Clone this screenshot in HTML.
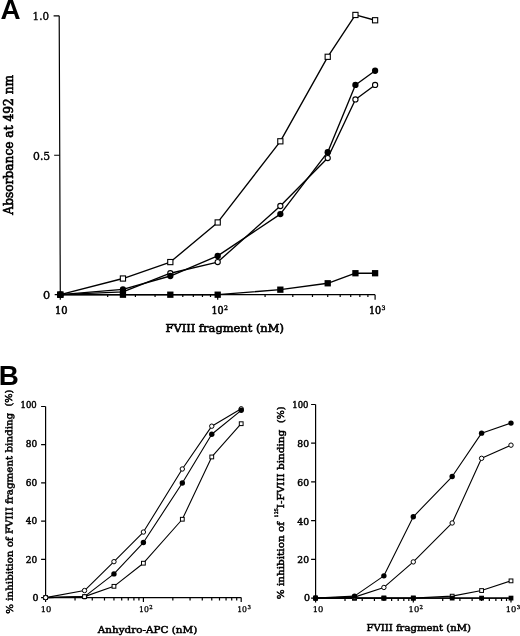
<!DOCTYPE html><html><head><meta charset="utf-8"><title>Figure</title><style>html,body{margin:0;padding:0;background:#fff}svg{display:block}</style></head><body>
<svg width="520" height="636" viewBox="0 0 520 636">
<rect width="520" height="636" fill="#fff"/>
<path d="M59.20 15.8L60.3 294.7H375.1" fill="none" stroke="#000" stroke-width="1.2"/>
<path d="M54.70 294.70H60.30M54.15 155.25H59.75M53.60 15.80H59.20M60.30 294.7v5M107.68 294.7v2.4M135.40 294.7v2.4M155.06 294.7v2.4M170.32 294.7v2.4M182.78 294.7v2.4M193.32 294.7v2.4M202.45 294.7v2.4M210.50 294.7v2.4M217.70 294.7v5M265.08 294.7v2.4M292.80 294.7v2.4M312.46 294.7v2.4M327.72 294.7v2.4M340.18 294.7v2.4M350.72 294.7v2.4M359.85 294.7v2.4M367.90 294.7v2.4M375.10 294.7v5" fill="none" stroke="#000" stroke-width="1.2"/>
<polyline points="60.30,294.70 122.94,278.52 170.32,262.07 217.70,222.46 280.34,141.30 327.72,56.80 355.43,14.96 375.10,20.26" fill="none" stroke="#000" stroke-width="1.35" stroke-linejoin="round"/>
<polyline points="60.30,294.70 122.94,291.91 170.32,273.22 217.70,262.07 280.34,206.01 327.72,158.04 355.43,99.47 375.10,84.97" fill="none" stroke="#000" stroke-width="1.35" stroke-linejoin="round"/>
<polyline points="60.30,294.70 122.94,289.40 170.32,276.01 217.70,255.93 280.34,214.10 327.72,152.18 355.43,84.97 375.10,70.74" fill="none" stroke="#000" stroke-width="1.35" stroke-linejoin="round"/>
<polyline points="60.30,294.70 122.94,294.70 170.32,294.70 217.70,294.70 280.34,289.68 327.72,283.27 355.43,273.22 375.10,273.22" fill="none" stroke="#000" stroke-width="1.35" stroke-linejoin="round"/>
<rect x="57.70" y="292.10" width="5.20" height="5.20" fill="#fff" stroke="#000" stroke-width="1.1"/>
<rect x="120.34" y="275.92" width="5.20" height="5.20" fill="#fff" stroke="#000" stroke-width="1.1"/>
<rect x="167.72" y="259.47" width="5.20" height="5.20" fill="#fff" stroke="#000" stroke-width="1.1"/>
<rect x="215.10" y="219.86" width="5.20" height="5.20" fill="#fff" stroke="#000" stroke-width="1.1"/>
<rect x="277.74" y="138.70" width="5.20" height="5.20" fill="#fff" stroke="#000" stroke-width="1.1"/>
<rect x="325.12" y="54.20" width="5.20" height="5.20" fill="#fff" stroke="#000" stroke-width="1.1"/>
<rect x="352.83" y="12.36" width="5.20" height="5.20" fill="#fff" stroke="#000" stroke-width="1.1"/>
<rect x="372.50" y="17.66" width="5.20" height="5.20" fill="#fff" stroke="#000" stroke-width="1.1"/>
<circle cx="60.30" cy="294.70" r="2.60" fill="#fff" stroke="#000" stroke-width="1.1"/>
<circle cx="122.94" cy="291.91" r="2.60" fill="#fff" stroke="#000" stroke-width="1.1"/>
<circle cx="170.32" cy="273.22" r="2.60" fill="#fff" stroke="#000" stroke-width="1.1"/>
<circle cx="217.70" cy="262.07" r="2.60" fill="#fff" stroke="#000" stroke-width="1.1"/>
<circle cx="280.34" cy="206.01" r="2.60" fill="#fff" stroke="#000" stroke-width="1.1"/>
<circle cx="327.72" cy="158.04" r="2.60" fill="#fff" stroke="#000" stroke-width="1.1"/>
<circle cx="355.43" cy="99.47" r="2.60" fill="#fff" stroke="#000" stroke-width="1.1"/>
<circle cx="375.10" cy="84.97" r="2.60" fill="#fff" stroke="#000" stroke-width="1.1"/>
<circle cx="60.30" cy="294.70" r="3.15" fill="#000"/>
<circle cx="122.94" cy="289.40" r="3.15" fill="#000"/>
<circle cx="170.32" cy="276.01" r="3.15" fill="#000"/>
<circle cx="217.70" cy="255.93" r="3.15" fill="#000"/>
<circle cx="280.34" cy="214.10" r="3.15" fill="#000"/>
<circle cx="327.72" cy="152.18" r="3.15" fill="#000"/>
<circle cx="355.43" cy="84.97" r="3.15" fill="#000"/>
<circle cx="375.10" cy="70.74" r="3.15" fill="#000"/>
<rect x="57.15" y="291.55" width="6.30" height="6.30" fill="#000"/>
<rect x="119.79" y="291.55" width="6.30" height="6.30" fill="#000"/>
<rect x="167.17" y="291.55" width="6.30" height="6.30" fill="#000"/>
<rect x="214.55" y="291.55" width="6.30" height="6.30" fill="#000"/>
<rect x="277.19" y="286.53" width="6.30" height="6.30" fill="#000"/>
<rect x="324.57" y="280.12" width="6.30" height="6.30" fill="#000"/>
<rect x="352.28" y="270.07" width="6.30" height="6.30" fill="#000"/>
<rect x="371.95" y="270.07" width="6.30" height="6.30" fill="#000"/>
<text x="0.4" y="19.3" font-family='"Liberation Sans", "DejaVu Sans", sans-serif' font-size="27.8" font-weight="bold" text-anchor="start" >A</text>
<text x="49.0" y="19.9" font-family='"DejaVu Serif", "Liberation Serif", serif' font-size="11" font-weight="normal" text-anchor="end" stroke="#000" stroke-width="0.38" textLength="16.4" lengthAdjust="spacingAndGlyphs" >1.0</text>
<text x="50.2" y="160" font-family='"DejaVu Serif", "Liberation Serif", serif' font-size="11" font-weight="normal" text-anchor="end" stroke="#000" stroke-width="0.38" textLength="17.2" lengthAdjust="spacingAndGlyphs" >0.5</text>
<text x="50.2" y="298.9" font-family='"DejaVu Serif", "Liberation Serif", serif' font-size="11" font-weight="normal" text-anchor="end" stroke="#000" stroke-width="0.38" textLength="7.2" lengthAdjust="spacingAndGlyphs" >0</text>
<text x="61.3" y="313.8" font-family='"DejaVu Serif", "Liberation Serif", serif' font-size="10.5" font-weight="normal" text-anchor="middle" stroke="#000" stroke-width="0.55" textLength="12.6" lengthAdjust="spacingAndGlyphs" >10</text>
<text x="211.5" y="314.0" font-family='"DejaVu Serif", "Liberation Serif", serif' font-size="10.5" font-weight="normal" stroke="#000" stroke-width="0.55"><tspan textLength="12.2" lengthAdjust="spacingAndGlyphs">10</tspan><tspan dy="-3.8" dx="0.4" font-size="6.2" stroke-width="0.39">2</tspan></text>
<text x="369.0" y="314.0" font-family='"DejaVu Serif", "Liberation Serif", serif' font-size="10.5" font-weight="normal" stroke="#000" stroke-width="0.55"><tspan textLength="12.2" lengthAdjust="spacingAndGlyphs">10</tspan><tspan dy="-3.8" dx="0.4" font-size="6.2" stroke-width="0.39">3</tspan></text>
<text x="224.7" y="332.4" font-family='"DejaVu Serif", "Liberation Serif", serif' font-size="11.5" font-weight="normal" text-anchor="middle" stroke="#000" stroke-width="0.62" textLength="118.4" lengthAdjust="spacingAndGlyphs" >FVIII fragment (nM)</text>
<text x="13.5" y="144.8" font-family='"DejaVu Serif", "Liberation Serif", serif' font-size="12.0" font-weight="normal" text-anchor="middle" stroke="#000" stroke-width="0.62" textLength="139.8" lengthAdjust="spacingAndGlyphs" transform="rotate(-90 13.5 144.8)" >Absorbance at 492 nm</text>
<path d="M45.60 406.5L45.6 597.6H241.2" fill="none" stroke="#000" stroke-width="1.2"/>
<path d="M41.10 597.60H45.60M41.10 559.38H45.60M41.10 521.16H45.60M41.10 482.94H45.60M41.10 444.72H45.60M41.10 406.50H45.60M45.60 597.6v4.4M75.04 597.6v2.8M92.26 597.6v2.8M104.48 597.6v2.8M113.96 597.6v2.8M121.70 597.6v2.8M128.25 597.6v2.8M133.92 597.6v2.8M138.92 597.6v2.8M143.40 597.6v4.4M172.84 597.6v2.8M190.06 597.6v2.8M202.28 597.6v2.8M211.76 597.6v2.8M219.50 597.6v2.8M226.05 597.6v2.8M231.72 597.6v2.8M236.72 597.6v2.8M241.20 597.6v4.4" fill="none" stroke="#000" stroke-width="1.2"/>
<polyline points="45.60,597.60 84.52,590.53 113.96,561.67 143.40,532.05 182.32,468.99 211.76,426.18 241.20,408.79" fill="none" stroke="#000" stroke-width="1.1" stroke-linejoin="round"/>
<polyline points="45.60,597.60 84.52,596.64 113.96,573.90 143.40,542.56 182.32,482.94 211.76,434.21 241.20,410.32" fill="none" stroke="#000" stroke-width="1.1" stroke-linejoin="round"/>
<polyline points="45.60,597.60 84.52,596.64 113.96,586.33 143.40,563.20 182.32,519.25 211.76,456.95 241.20,423.70" fill="none" stroke="#000" stroke-width="1.1" stroke-linejoin="round"/>
<circle cx="45.60" cy="597.60" r="2.20" fill="#fff" stroke="#000" stroke-width="1.0"/>
<circle cx="84.52" cy="590.53" r="2.20" fill="#fff" stroke="#000" stroke-width="1.0"/>
<circle cx="113.96" cy="561.67" r="2.20" fill="#fff" stroke="#000" stroke-width="1.0"/>
<circle cx="143.40" cy="532.05" r="2.20" fill="#fff" stroke="#000" stroke-width="1.0"/>
<circle cx="182.32" cy="468.99" r="2.20" fill="#fff" stroke="#000" stroke-width="1.0"/>
<circle cx="211.76" cy="426.18" r="2.20" fill="#fff" stroke="#000" stroke-width="1.0"/>
<circle cx="241.20" cy="408.79" r="2.20" fill="#fff" stroke="#000" stroke-width="1.0"/>
<circle cx="45.60" cy="597.60" r="2.70" fill="#000"/>
<circle cx="84.52" cy="596.64" r="2.70" fill="#000"/>
<circle cx="113.96" cy="573.90" r="2.70" fill="#000"/>
<circle cx="143.40" cy="542.56" r="2.70" fill="#000"/>
<circle cx="182.32" cy="482.94" r="2.70" fill="#000"/>
<circle cx="211.76" cy="434.21" r="2.70" fill="#000"/>
<circle cx="241.20" cy="410.32" r="2.70" fill="#000"/>
<rect x="43.71" y="595.71" width="3.78" height="3.78" fill="#fff" stroke="#000" stroke-width="1.0"/>
<rect x="82.63" y="594.75" width="3.78" height="3.78" fill="#fff" stroke="#000" stroke-width="1.0"/>
<rect x="112.07" y="584.43" width="3.78" height="3.78" fill="#fff" stroke="#000" stroke-width="1.0"/>
<rect x="141.51" y="561.31" width="3.78" height="3.78" fill="#fff" stroke="#000" stroke-width="1.0"/>
<rect x="180.43" y="517.36" width="3.78" height="3.78" fill="#fff" stroke="#000" stroke-width="1.0"/>
<rect x="209.87" y="455.06" width="3.78" height="3.78" fill="#fff" stroke="#000" stroke-width="1.0"/>
<rect x="239.31" y="421.81" width="3.78" height="3.78" fill="#fff" stroke="#000" stroke-width="1.0"/>
<circle cx="45.60" cy="597.60" r="2.20" fill="#fff" stroke="#000" stroke-width="1.0"/>
<text x="-1.2" y="385.4" font-family='"Liberation Sans", "DejaVu Sans", sans-serif' font-size="27.8" font-weight="bold" text-anchor="start" >B</text>
<text x="36.7" y="407.7" font-family='"DejaVu Serif", "Liberation Serif", serif' font-size="8.6" font-weight="normal" text-anchor="end" stroke="#000" stroke-width="0.45" textLength="16.2" lengthAdjust="spacingAndGlyphs" >100</text>
<text x="37.1" y="447.2" font-family='"DejaVu Serif", "Liberation Serif", serif' font-size="8.6" font-weight="normal" text-anchor="end" stroke="#000" stroke-width="0.45" textLength="11.4" lengthAdjust="spacingAndGlyphs" >80</text>
<text x="37.1" y="486.2" font-family='"DejaVu Serif", "Liberation Serif", serif' font-size="8.6" font-weight="normal" text-anchor="end" stroke="#000" stroke-width="0.45" textLength="11.4" lengthAdjust="spacingAndGlyphs" >60</text>
<text x="37.1" y="524.0" font-family='"DejaVu Serif", "Liberation Serif", serif' font-size="8.6" font-weight="normal" text-anchor="end" stroke="#000" stroke-width="0.45" textLength="11.4" lengthAdjust="spacingAndGlyphs" >40</text>
<text x="37.1" y="562.5" font-family='"DejaVu Serif", "Liberation Serif", serif' font-size="8.6" font-weight="normal" text-anchor="end" stroke="#000" stroke-width="0.45" textLength="11.4" lengthAdjust="spacingAndGlyphs" >20</text>
<text x="38.5" y="600.6" font-family='"DejaVu Serif", "Liberation Serif", serif' font-size="8.6" font-weight="normal" text-anchor="end" stroke="#000" stroke-width="0.45" textLength="6.0" lengthAdjust="spacingAndGlyphs" >0</text>
<text x="46.1" y="612.0" font-family='"DejaVu Serif", "Liberation Serif", serif' font-size="7.9" font-weight="normal" text-anchor="middle" stroke="#000" stroke-width="0.3" textLength="10.6" lengthAdjust="spacingAndGlyphs" >10</text>
<text x="139.0" y="611.8" font-family='"DejaVu Serif", "Liberation Serif", serif' font-size="7.9" font-weight="normal" stroke="#000" stroke-width="0.3"><tspan textLength="9.8" lengthAdjust="spacingAndGlyphs">10</tspan><tspan dy="-2.9" dx="0.4" font-size="5.4" stroke-width="0.30">2</tspan></text>
<text x="237.2" y="611.8" font-family='"DejaVu Serif", "Liberation Serif", serif' font-size="7.9" font-weight="normal" stroke="#000" stroke-width="0.3"><tspan textLength="9.8" lengthAdjust="spacingAndGlyphs">10</tspan><tspan dy="-2.9" dx="0.4" font-size="5.4" stroke-width="0.30">3</tspan></text>
<text x="147.5" y="632.6" font-family='"DejaVu Serif", "Liberation Serif", serif' font-size="9.3" font-weight="normal" text-anchor="middle" stroke="#000" stroke-width="0.5" textLength="99.4" lengthAdjust="spacingAndGlyphs" >Anhydro-APC (nM)</text>
<text x="12.9" y="613.8" font-family='"DejaVu Serif", "Liberation Serif", serif' font-size="9.3" stroke="#000" stroke-width="0.5" textLength="201" lengthAdjust="spacingAndGlyphs" transform="rotate(-90.2 12.9 613.8)">% inhibition of FVIII fragment binding</text>
<text x="12.1" y="406.6" font-family='"DejaVu Serif", "Liberation Serif", serif' font-size="9.3" stroke="#000" stroke-width="0.5" textLength="17" lengthAdjust="spacingAndGlyphs" transform="rotate(-90.2 12.1 406.6)">(%)</text>
<path d="M315.60 404.5L315.6 598.1H511.0" fill="none" stroke="#000" stroke-width="1.2"/>
<path d="M311.10 598.10H315.60M311.10 559.38H315.60M311.10 520.66H315.60M311.10 481.94H315.60M311.10 443.22H315.60M311.10 404.50H315.60M315.60 598.1v4.4M345.01 598.1v2.8M362.21 598.1v2.8M374.42 598.1v2.8M383.89 598.1v2.8M391.63 598.1v2.8M398.17 598.1v2.8M403.83 598.1v2.8M408.83 598.1v2.8M413.30 598.1v4.4M442.71 598.1v2.8M459.91 598.1v2.8M472.12 598.1v2.8M481.59 598.1v2.8M489.33 598.1v2.8M495.87 598.1v2.8M501.53 598.1v2.8M506.53 598.1v2.8M511.00 598.1v4.4" fill="none" stroke="#000" stroke-width="1.2"/>
<polyline points="315.60,598.10 354.48,598.10 383.89,598.10 413.30,598.10 452.18,596.16 481.59,590.55 511.00,580.87" fill="none" stroke="#000" stroke-width="1.1" stroke-linejoin="round"/>
<polyline points="315.60,598.10 354.48,598.10 383.89,598.10 413.30,598.10 452.18,598.10 481.59,598.10 511.00,598.10" fill="none" stroke="#000" stroke-width="1.1" stroke-linejoin="round"/>
<polyline points="315.60,598.10 354.48,597.13 383.89,587.45 413.30,561.90 452.18,522.98 481.59,458.32 511.00,445.16" fill="none" stroke="#000" stroke-width="1.1" stroke-linejoin="round"/>
<polyline points="315.60,598.10 354.48,596.16 383.89,575.84 413.30,516.79 452.18,476.52 481.59,433.15 511.00,423.09" fill="none" stroke="#000" stroke-width="1.1" stroke-linejoin="round"/>
<rect x="313.71" y="596.21" width="3.78" height="3.78" fill="#fff" stroke="#000" stroke-width="1.0"/>
<rect x="352.59" y="596.21" width="3.78" height="3.78" fill="#fff" stroke="#000" stroke-width="1.0"/>
<rect x="382.00" y="596.21" width="3.78" height="3.78" fill="#fff" stroke="#000" stroke-width="1.0"/>
<rect x="411.41" y="596.21" width="3.78" height="3.78" fill="#fff" stroke="#000" stroke-width="1.0"/>
<rect x="450.29" y="594.27" width="3.78" height="3.78" fill="#fff" stroke="#000" stroke-width="1.0"/>
<rect x="479.70" y="588.66" width="3.78" height="3.78" fill="#fff" stroke="#000" stroke-width="1.0"/>
<rect x="509.11" y="578.98" width="3.78" height="3.78" fill="#fff" stroke="#000" stroke-width="1.0"/>
<rect x="313.21" y="595.71" width="4.78" height="4.78" fill="#000"/>
<rect x="352.09" y="595.71" width="4.78" height="4.78" fill="#000"/>
<rect x="381.50" y="595.71" width="4.78" height="4.78" fill="#000"/>
<rect x="410.91" y="595.71" width="4.78" height="4.78" fill="#000"/>
<rect x="449.79" y="595.71" width="4.78" height="4.78" fill="#000"/>
<rect x="479.20" y="595.71" width="4.78" height="4.78" fill="#000"/>
<rect x="508.61" y="595.71" width="4.78" height="4.78" fill="#000"/>
<circle cx="315.60" cy="598.10" r="2.20" fill="#fff" stroke="#000" stroke-width="1.0"/>
<circle cx="354.48" cy="597.13" r="2.20" fill="#fff" stroke="#000" stroke-width="1.0"/>
<circle cx="383.89" cy="587.45" r="2.20" fill="#fff" stroke="#000" stroke-width="1.0"/>
<circle cx="413.30" cy="561.90" r="2.20" fill="#fff" stroke="#000" stroke-width="1.0"/>
<circle cx="452.18" cy="522.98" r="2.20" fill="#fff" stroke="#000" stroke-width="1.0"/>
<circle cx="481.59" cy="458.32" r="2.20" fill="#fff" stroke="#000" stroke-width="1.0"/>
<circle cx="511.00" cy="445.16" r="2.20" fill="#fff" stroke="#000" stroke-width="1.0"/>
<circle cx="315.60" cy="598.10" r="2.70" fill="#000"/>
<circle cx="354.48" cy="596.16" r="2.70" fill="#000"/>
<circle cx="383.89" cy="575.84" r="2.70" fill="#000"/>
<circle cx="413.30" cy="516.79" r="2.70" fill="#000"/>
<circle cx="452.18" cy="476.52" r="2.70" fill="#000"/>
<circle cx="481.59" cy="433.15" r="2.70" fill="#000"/>
<circle cx="511.00" cy="423.09" r="2.70" fill="#000"/>
<text x="308.5" y="407.5" font-family='"DejaVu Serif", "Liberation Serif", serif' font-size="8.6" font-weight="normal" text-anchor="end" stroke="#000" stroke-width="0.45" textLength="16.2" lengthAdjust="spacingAndGlyphs" >100</text>
<text x="309" y="447.0" font-family='"DejaVu Serif", "Liberation Serif", serif' font-size="8.6" font-weight="normal" text-anchor="end" stroke="#000" stroke-width="0.45" textLength="11.7" lengthAdjust="spacingAndGlyphs" >80</text>
<text x="309" y="486.09999999999997" font-family='"DejaVu Serif", "Liberation Serif", serif' font-size="8.6" font-weight="normal" text-anchor="end" stroke="#000" stroke-width="0.45" textLength="11.7" lengthAdjust="spacingAndGlyphs" >60</text>
<text x="309" y="524.6" font-family='"DejaVu Serif", "Liberation Serif", serif' font-size="8.6" font-weight="normal" text-anchor="end" stroke="#000" stroke-width="0.45" textLength="11.7" lengthAdjust="spacingAndGlyphs" >40</text>
<text x="309" y="563.1" font-family='"DejaVu Serif", "Liberation Serif", serif' font-size="8.6" font-weight="normal" text-anchor="end" stroke="#000" stroke-width="0.45" textLength="11.7" lengthAdjust="spacingAndGlyphs" >20</text>
<text x="310.1" y="600.8000000000001" font-family='"DejaVu Serif", "Liberation Serif", serif' font-size="8.6" font-weight="normal" text-anchor="end" stroke="#000" stroke-width="0.45" textLength="6.0" lengthAdjust="spacingAndGlyphs" >0</text>
<text x="318.1" y="612.1" font-family='"DejaVu Serif", "Liberation Serif", serif' font-size="7.9" font-weight="normal" text-anchor="middle" stroke="#000" stroke-width="0.3" textLength="10.6" lengthAdjust="spacingAndGlyphs" >10</text>
<text x="408.6" y="611.9" font-family='"DejaVu Serif", "Liberation Serif", serif' font-size="7.9" font-weight="normal" stroke="#000" stroke-width="0.3"><tspan textLength="10.6" lengthAdjust="spacingAndGlyphs">10</tspan><tspan dy="-2.9" dx="0.4" font-size="5.4" stroke-width="0.30">2</tspan></text>
<text x="505.7" y="611.9" font-family='"DejaVu Serif", "Liberation Serif", serif' font-size="7.9" font-weight="normal" stroke="#000" stroke-width="0.3"><tspan textLength="10.6" lengthAdjust="spacingAndGlyphs">10</tspan><tspan dy="-2.9" dx="0.4" font-size="5.4" stroke-width="0.30">3</tspan></text>
<text x="418.7" y="631.1" font-family='"DejaVu Serif", "Liberation Serif", serif' font-size="9.3" font-weight="normal" text-anchor="middle" stroke="#000" stroke-width="0.5" textLength="104.5" lengthAdjust="spacingAndGlyphs" >FVIII fragment (nM)</text>
<text x="284.0" y="599.2" font-family='"DejaVu Serif", "Liberation Serif", serif' font-size="9.3" font-weight="normal" text-anchor="start" stroke="#000" stroke-width="0.5" textLength="77.3" lengthAdjust="spacingAndGlyphs" transform="rotate(-90 284.0 599.2)" >% inhibition of</text>
<text x="278.2" y="517.4" font-family='"DejaVu Serif", "Liberation Serif", serif' font-size="4.8" font-weight="normal" text-anchor="start" stroke="#000" stroke-width="0.4" textLength="9.2" lengthAdjust="spacingAndGlyphs" transform="rotate(-90 278.2 517.4)" >125</text>
<text x="284.0" y="508.2" font-family='"DejaVu Serif", "Liberation Serif", serif' font-size="9.3" font-weight="normal" text-anchor="start" stroke="#000" stroke-width="0.5" textLength="78.5" lengthAdjust="spacingAndGlyphs" transform="rotate(-90 284.0 508.2)" >I-FVIII binding</text>
<text x="284.0" y="423.0" font-family='"DejaVu Serif", "Liberation Serif", serif' font-size="9.3" font-weight="normal" text-anchor="start" stroke="#000" stroke-width="0.5" textLength="16.6" lengthAdjust="spacingAndGlyphs" transform="rotate(-90 284.0 423.0)" >(%)</text>
</svg></body></html>
